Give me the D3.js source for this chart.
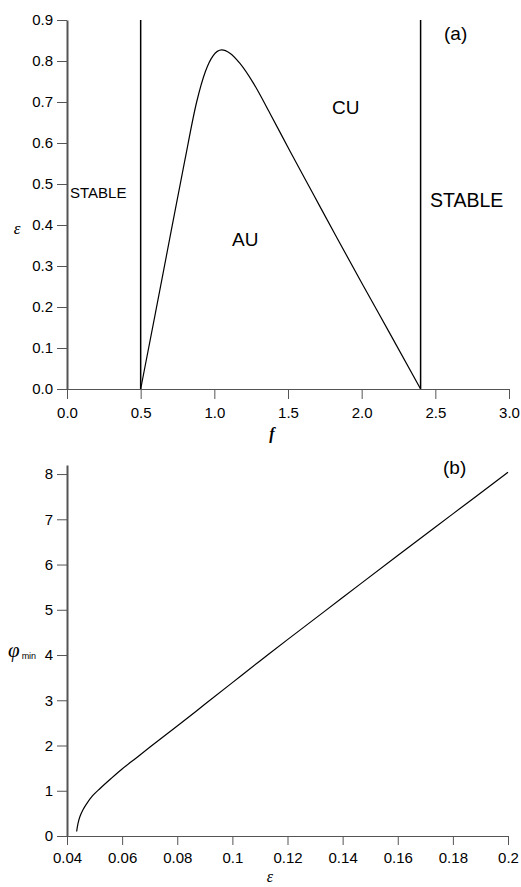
<!DOCTYPE html>
<html>
<head>
<meta charset="utf-8">
<script src="https://cdn.jsdelivr.net/npm/d3@7"></script>
<style>
  body { margin: 0; background: #fff; }
  text { font-family: "Liberation Sans", Arial, Helvetica, sans-serif; }
  .axis path, .axis line { stroke: #555; }
  .axis text { fill: #000; font-size: 15px; font-family: "Liberation Sans", Arial, sans-serif; }
</style>
</head>
<body>
<svg id="chart" width="521" height="887"></svg>
<script>
// panel (a): stability boundary eps(f)
const curveF   = [0.5, 0.6, 0.7, 0.8, 0.88, 0.94, 0.99, 1.05, 1.106, 1.174, 1.265, 1.378, 1.514, 1.672, 1.830, 2.011, 2.192, 2.4];
const curveEps = [0.0, 0.185, 0.372, 0.558, 0.70, 0.775, 0.812, 0.827, 0.819, 0.794, 0.746, 0.672, 0.580, 0.475, 0.370, 0.252, 0.135, 0.0];
const boundaryF = [0.5, 2.4];
const fTicks = [0.0, 0.5, 1.0, 1.5, 2.0, 2.5, 3.0];
const epsTicksA = [0.0, 0.1, 0.2, 0.3, 0.4, 0.5, 0.6, 0.7, 0.8, 0.9];

// panel (b): phi_min(eps)
const phiEps = [0.0435, 0.044, 0.0447, 0.0458, 0.0471, 0.049, 0.052, 0.056, 0.060, 0.065, 0.070, 0.080, 0.090, 0.100, 0.110, 0.120, 0.140, 0.160, 0.180, 0.200];
const phiMin = [0.10, 0.28, 0.43, 0.58, 0.71, 0.87, 1.05, 1.27, 1.48, 1.72, 1.96, 2.43, 2.91, 3.39, 3.87, 4.34, 5.27, 6.20, 7.12, 8.04];
const epsTicksB = [0.04, 0.06, 0.08, 0.1, 0.12, 0.14, 0.16, 0.18, 0.2];
const phiTicks = [0, 1, 2, 3, 4, 5, 6, 7, 8];

const svg = d3.select("#chart");

// ---------- panel (a)
const xA = d3.scaleLinear().domain([0, 3]).range([67, 509]);
const yA = d3.scaleLinear().domain([0, 0.9]).range([389, 20]);

svg.append("g")
    .attr("class", "axis")
    .attr("transform", `translate(0,${yA(0)})`)
    .call(d3.axisBottom(xA).tickValues(fTicks).tickFormat(d3.format(".1f"))
        .tickSize(10).tickSizeOuter(0).tickPadding(8));

svg.append("g")
    .attr("class", "axis")
    .attr("transform", `translate(${xA(0)},0)`)
    .call(d3.axisLeft(yA).tickValues(epsTicksA).tickFormat(d3.format(".1f"))
        .tickSize(10).tickSizeOuter(0).tickPadding(4))
    .select(".domain").attr("stroke-width", 2);

svg.selectAll(".vline")
    .data(boundaryF)
    .enter().append("line")
    .attr("class", "vline")
    .attr("x1", d => xA(d)).attr("x2", d => xA(d))
    .attr("y1", yA(0)).attr("y2", yA(0.9))
    .attr("stroke", "#000").attr("stroke-width", 1.5);

const lineA = d3.line()
    .x((d, i) => xA(curveF[i]))
    .y(d => yA(d))
    .curve(d3.curveMonotoneX);

svg.append("path")
    .attr("d", lineA(curveEps))
    .attr("fill", "none").attr("stroke", "#000").attr("stroke-width", 1.2);

svg.append("text").attr("x", 70).attr("y", 198).attr("font-size", 15).text("STABLE");
svg.append("text").attr("x", 430).attr("y", 207).attr("font-size", 19.5).text("STABLE");
svg.append("text").attr("x", 332).attr("y", 114).attr("font-size", 19).text("CU");
svg.append("text").attr("x", 232).attr("y", 246).attr("font-size", 19).text("AU");
svg.append("text").attr("x", 444).attr("y", 40).attr("font-size", 19).text("(a)");
svg.append("text").attr("x", 17).attr("y", 234).attr("text-anchor", "middle")
    .attr("font-size", 17).attr("font-style", "italic")
    .style("font-family", "'Liberation Serif', 'Times New Roman', serif").text("ε");
svg.append("text").attr("x", 272).attr("y", 439).attr("text-anchor", "middle")
    .attr("font-size", 16).attr("font-style", "italic").attr("font-weight", "bold")
    .style("font-family", "'Liberation Serif', 'Times New Roman', serif").text("f");

// ---------- panel (b)
const xB = d3.scaleLinear().domain([0.04, 0.2]).range([67, 508]);
const yB = d3.scaleLinear().domain([0, 8.2]).range([836, 465]);

svg.append("g")
    .attr("class", "axis")
    .attr("transform", `translate(0,${yB(0)})`)
    .call(d3.axisBottom(xB).tickValues(epsTicksB).tickFormat(d => d3.format("")(+d.toFixed(2)))
        .tickSize(9).tickSizeOuter(0).tickPadding(7));

svg.append("g")
    .attr("class", "axis")
    .attr("transform", `translate(${xB(0.04)},0)`)
    .call(d3.axisLeft(yB).tickValues(phiTicks).tickFormat(d3.format("d"))
        .tickSize(10).tickSizeOuter(0).tickPadding(4))
    .select(".domain").attr("stroke-width", 2);

const lineB = d3.line()
    .x((d, i) => xB(phiEps[i]))
    .y(d => yB(d))
    .curve(d3.curveCatmullRom.alpha(0.5));

svg.append("path")
    .attr("d", lineB(phiMin))
    .attr("fill", "none").attr("stroke", "#000").attr("stroke-width", 1.2);

svg.append("text").attr("x", 443).attr("y", 474).attr("font-size", 19).text("(b)");
const phiLabel = svg.append("text").attr("x", 8).attr("y", 657);
phiLabel.append("tspan").attr("font-size", 21).attr("font-style", "italic")
    .style("font-family", "'Liberation Serif', 'Times New Roman', serif").text("φ");
phiLabel.append("tspan").attr("font-size", 9).attr("dx", 2).attr("dy", 2).text("min");
svg.append("text").attr("x", 270).attr("y", 882).attr("text-anchor", "middle")
    .attr("font-size", 16).attr("font-style", "italic")
    .style("font-family", "'Liberation Serif', 'Times New Roman', serif").text("ε");
</script>
</body>
</html>
